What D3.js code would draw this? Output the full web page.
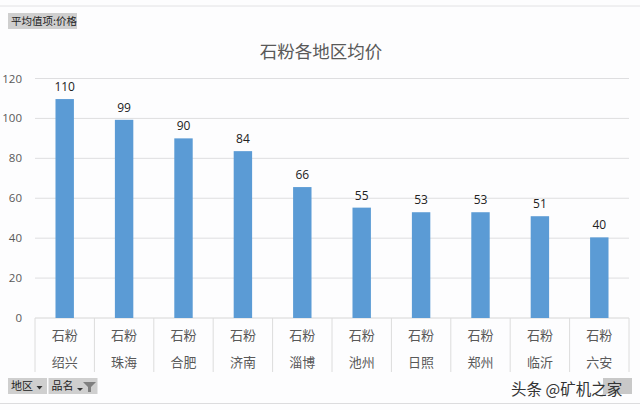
<!DOCTYPE html>
<html><head><meta charset="utf-8">
<script src="https://cdnjs.cloudflare.com/ajax/libs/d3/7.8.5/d3.min.js"></script>
<style>html,body{margin:0;padding:0;background:#fdfdfe;overflow:hidden}
text{font-family:"Noto Sans CJK SC","Liberation Sans",sans-serif}</style></head>
<body><svg id="c" width="640" height="410"></svg>
<script>
const title = "石粉各地区均价";
const regions = ["绍兴","珠海","合肥","济南","淄博","池州","日照","郑州","临沂","六安"];
const product = "石粉";
const values = [109.7,99.3,90,83.6,65.6,55.3,53,53,51,40.4];
const valueLabels = ["110","99","90","84","66","55","53","53","51","40"];
const yTicks = [0,20,40,60,80,100,120];
const svg = d3.select("#c");
const L=35,R=629,T=78.5,B=318,AB=372;
const x = d3.scaleBand().domain(regions).range([L,R]).paddingInner(0.69).paddingOuter(0.345);
const xGroup = d3.scaleBand().domain(regions).range([L,R]);
const y = d3.scaleLinear().domain([0,120]).range([B,T]);

svg.append("line").attr("x1",0).attr("x2",640).attr("y1",6).attr("y2",6).attr("stroke","#e2e2e4").attr("stroke-width",1);
svg.append("line").attr("x1",0).attr("x2",640).attr("y1",403.5).attr("y2",403.5).attr("stroke","#dcdcde").attr("stroke-width",1);

svg.selectAll("line.g").data(yTicks).join("line").attr("class","g")
 .attr("x1",L).attr("x2",R).attr("y1",d=>y(d)).attr("y2",d=>y(d))
 .attr("stroke",d=>d===0?"#d6d6d6":"#dedee0").attr("stroke-width",1);
svg.selectAll("text.yl").data(yTicks).join("text").attr("class","yl")
 .attr("x",22).attr("y",d=>y(d)+4).attr("text-anchor","end").attr("font-size",11.5).attr("fill","#595959")
 .style("font-family","'Open Sans',sans-serif").text(d=>d);

svg.selectAll("rect.b").data(regions).join("rect").attr("class","b")
 .attr("x",d=>x(d)).attr("width",x.bandwidth())
 .attr("y",(d,i)=>y(values[i])).attr("height",(d,i)=>B-y(values[i])).attr("fill","#5b9bd5");

svg.selectAll("text.v").data(regions).join("text").attr("class","v")
 .attr("x",d=>x(d)+x.bandwidth()/2).attr("y",(d,i)=>y(values[i])-8).attr("text-anchor","middle")
 .attr("font-size",12).attr("fill","#222").style("font-family","'Open Sans',sans-serif")
 .text((d,i)=>valueLabels[i]);

const seps = regions.map(d=>xGroup(d)).concat([R]);
svg.selectAll("line.s").data(seps).join("line").attr("class","s")
 .attr("x1",d=>d).attr("x2",d=>d).attr("y1",B).attr("y2",AB).attr("stroke","#dcdcdc");
svg.selectAll("text.p").data(regions).join("text").attr("class","p")
 .attr("x",d=>xGroup(d)+xGroup.bandwidth()/2).attr("y",340).attr("text-anchor","middle")
 .attr("font-size",13).attr("fill","#595959").text(product);
svg.selectAll("text.r").data(regions).join("text").attr("class","r")
 .attr("x",d=>xGroup(d)+xGroup.bandwidth()/2).attr("y",367).attr("text-anchor","middle")
 .attr("font-size",13).attr("fill","#595959").text(d=>d);

svg.append("text").attr("x",321).attr("y",58).attr("text-anchor","middle").attr("font-size",17.5).attr("fill","#595959").text(title);

function btn(x0,y0,w,h,label,fs){
  const g=svg.append("g");
  g.append("rect").attr("x",x0).attr("y",y0).attr("width",w).attr("height",h).attr("fill","#cfcfcf");
  g.append("text").attr("x",x0+3).attr("y",y0+h-4).attr("font-size",fs).attr("fill","#222").text(label);
}
btn(8,13,69,16,"平均值项:价格",10.5);
btn(8,378,39,16,"地区",11);
btn(48.5,378,49,16,"品名",11);
const tri=(cx,cy,w,h,c)=>svg.append("path").attr("d",`M${cx-w/2},${cy}h${w}l${-w/2},${h}z`).attr("fill",c);
tri(39.5,386,6,3.5,"#333");
tri(80,388,6,3,"#333");
svg.append("path").attr("d","M83,382h13l-5,5v5h-3v-5z").attr("fill","#7f7f7f");

svg.append("rect").attr("x",603).attr("y",378).attr("width",29).attr("height",16).attr("fill","#c8c8c8");
svg.append("text").attr("x",511).attr("y",395).attr("font-size",15.5).attr("fill","#333").text("头条 @矿机之家");
</script></body></html>
